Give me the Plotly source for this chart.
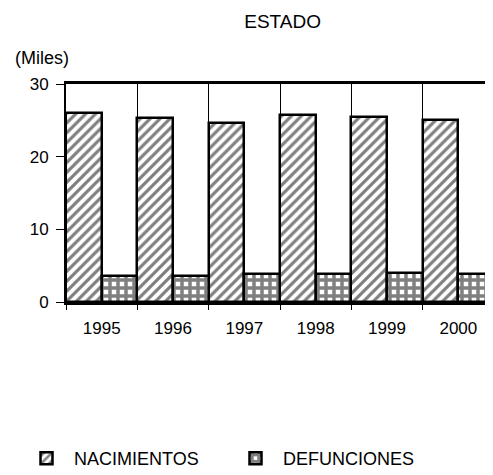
import plotly.graph_objects as go

years = ["1995", "1996", "1997", "1998", "1999", "2000"]
nacimientos = [26.0, 25.3, 24.7, 25.8, 25.4, 25.1]
defunciones = [3.6, 3.6, 3.9, 3.9, 4.0, 3.8]
y_ticks = [0, 10, 20, 30]

FONT = "Liberation Sans, Arial, Helvetica, sans-serif"

fig = go.Figure()
fig.add_trace(go.Bar(
    x=years, y=nacimientos, name="NACIMIENTOS",
    marker=dict(color="white",
                line=dict(color="black", width=2.5),
                pattern=dict(shape="/", fgcolor="black", bgcolor="white",
                             size=7, solidity=0.45)),
))
fig.add_trace(go.Bar(
    x=years, y=defunciones, name="DEFUNCIONES",
    marker=dict(color="white",
                line=dict(color="black", width=2.5),
                pattern=dict(shape="+", fgcolor="black", bgcolor="white",
                             size=8, solidity=0.68)),
))

H = 475
fig.update_layout(
    width=493, height=H,
    margin=dict(l=58, r=7, t=76, b=H - 76 - 218),
    paper_bgcolor="white", plot_bgcolor="white",
    barmode="group", bargap=0, bargroupgap=0,
    font=dict(family=FONT, color="black", size=17),
    title=dict(text="ESTADO", x=0.506, xanchor="center", xref="paper",
               y=1 - 13.5 / H, yref="container", yanchor="middle",
               font=dict(size=19, color="black", family=FONT)),
    showlegend=True,
    legend=dict(orientation="h", xref="container", yref="container",
                x=11 / 493, xanchor="left", y=1 - 432 / H, yanchor="top",
                font=dict(size=18, color="black", family=FONT),
                itemwidth=45, entrywidth=149, traceorder="normal"),
    annotations=[dict(text="(Miles)", xref="paper", yref="paper",
                      x=-0.124, y=(302 - 58) / 218, xanchor="left",
                      yanchor="middle", showarrow=False,
                      font=dict(size=18, color="black", family=FONT))],
)

fig.update_xaxes(
    type="category", range=[-0.5, 5.5],
    tickson="boundaries", ticks="outside", ticklen=5, tickwidth=1,
    tickcolor="black", ticklabelstandoff=9,
    showgrid=True, gridcolor="black", gridwidth=1,
    showline=True, linecolor="black", linewidth=3, mirror=True,
    tickfont=dict(size=17, color="black", family=FONT),
    fixedrange=True,
)
fig.update_yaxes(
    range=[0, 30], tickvals=y_ticks, ticks="outside", ticklen=8,
    tickwidth=1, tickcolor="black", ticklabelstandoff=4,
    showgrid=False, zeroline=False,
    showline=True, linecolor="black", linewidth=2,
    tickfont=dict(size=17, color="black", family=FONT),
    fixedrange=True,
)

fig.write_html("out.html")
